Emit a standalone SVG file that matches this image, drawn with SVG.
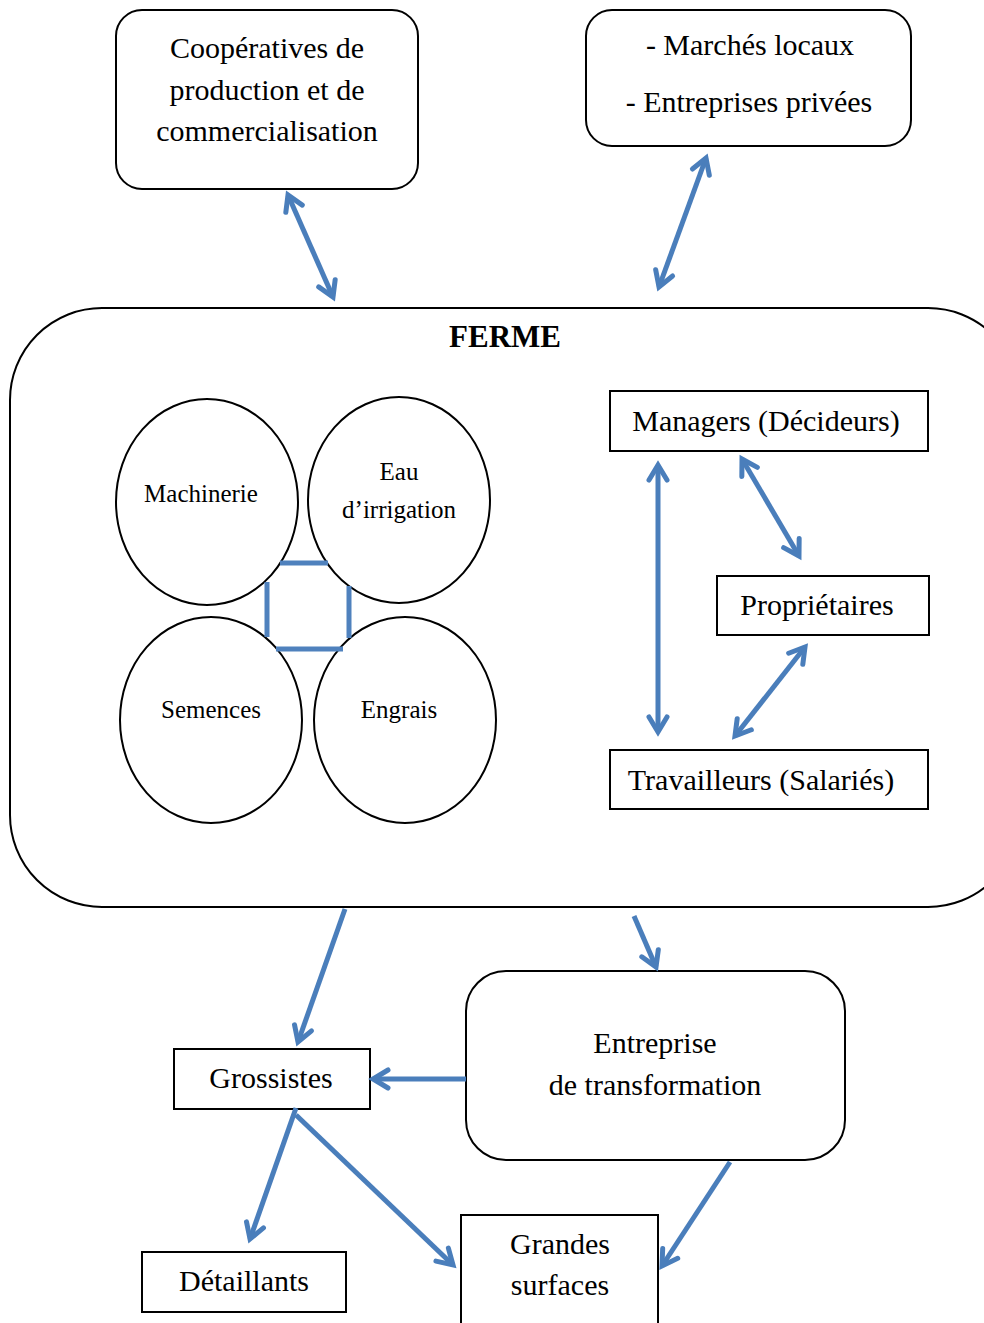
<svg xmlns="http://www.w3.org/2000/svg" width="984" height="1323" viewBox="0 0 984 1323">
<defs>
<style>
.box{fill:#fff;stroke:#000;stroke-width:2}
.t{font-family:"Liberation Serif","Times New Roman",serif;font-size:30px;fill:#000;text-anchor:middle}
.s{font-size:25px}
.c{fill:none;stroke:#4a7ebb;stroke-width:5}
.sq{stroke:#4f81bd;stroke-width:5;fill:none}
</style>
<marker id="a" markerUnits="userSpaceOnUse" markerWidth="30" markerHeight="30" viewBox="-20 -15 30 30" refX="0" refY="0" orient="auto-start-reverse">
<path d="M-15,-9 L0,0 L-15,9" fill="none" stroke="#4a7ebb" stroke-width="5" stroke-linecap="round" stroke-linejoin="miter"/>
</marker>
</defs>
<rect width="984" height="1323" fill="#fff"/>

<g id="ferme">
<rect class="box" x="10" y="308" width="1010" height="599" rx="92"/>
<text class="t" x="505" y="347" style="font-weight:bold;font-size:31px">FERME</text>
</g>
<g id="coop">
<rect class="box" x="116" y="10" width="302" height="179" rx="26"/>
<text class="t" x="267" y="58">Coopératives de</text>
<text class="t" x="267" y="100">production et de</text>
<text class="t" x="267" y="141">commercialisation</text>
</g>
<g id="marches">
<rect class="box" x="586" y="10" width="325" height="136" rx="26"/>
<text class="t" x="750" y="55">- Marchés locaux</text>
<text class="t" x="749" y="112">- Entreprises privées</text>
</g>
<g id="machinerie">
<ellipse class="box" cx="207" cy="502" rx="91" ry="103"/>
<text class="t s" x="201" y="502">Machinerie</text>
</g>
<g id="eau">
<ellipse class="box" cx="399" cy="500" rx="91" ry="103"/>
<text class="t s" x="399" y="480">Eau</text>
<text class="t s" x="399" y="518">d’irrigation</text>
</g>
<g id="semences">
<ellipse class="box" cx="211" cy="720" rx="91" ry="103"/>
<text class="t s" x="211" y="718">Semences</text>
</g>
<g id="engrais">
<ellipse class="box" cx="405" cy="720" rx="91" ry="103"/>
<text class="t s" x="399" y="718">Engrais</text>
</g>
<g id="square">
<path class="sq" d="M280,563 H328 M276,649 H343 M267,582 V637 M349,586 V638"/>
</g>
<g id="managers">
<rect class="box" x="610" y="391" width="318" height="60"/>
<text class="t" x="766" y="431">Managers (Décideurs)</text>
</g>
<g id="proprietaires">
<rect class="box" x="717" y="576" width="212" height="59"/>
<text class="t" x="817" y="615">Propriétaires</text>
</g>
<g id="travailleurs">
<rect class="box" x="610" y="750" width="318" height="59"/>
<text class="t" x="761" y="790">Travailleurs (Salariés)</text>
</g>
<g id="entreprise">
<rect class="box" x="466" y="971" width="379" height="189" rx="40"/>
<text class="t" x="655" y="1053">Entreprise</text>
<text class="t" x="655" y="1095">de transformation</text>
</g>
<g id="grossistes">
<rect class="box" x="174" y="1049" width="196" height="60"/>
<text class="t" x="271" y="1088">Grossistes</text>
</g>
<g id="detaillants">
<rect class="box" x="142" y="1252" width="204" height="60"/>
<text class="t" x="244" y="1291">Détaillants</text>
</g>
<g id="grandes">
<rect class="box" x="461" y="1215" width="197" height="120"/>
<text class="t" x="560" y="1254">Grandes</text>
<text class="t" x="560" y="1295">surfaces</text>
</g>

<g id="connectors">
<line class="c" x1="288" y1="195" x2="333" y2="297" marker-start="url(#a)" marker-end="url(#a)"/>
<line class="c" x1="706" y1="158" x2="659" y2="287" marker-start="url(#a)" marker-end="url(#a)"/>
<line class="c" x1="658" y1="465" x2="658" y2="732" marker-start="url(#a)" marker-end="url(#a)"/>
<line class="c" x1="742" y1="459" x2="799" y2="556" marker-start="url(#a)" marker-end="url(#a)"/>
<line class="c" x1="805" y1="647" x2="735" y2="736" marker-start="url(#a)" marker-end="url(#a)"/>
<line class="c" x1="345" y1="909" x2="298" y2="1042" marker-end="url(#a)"/>
<line class="c" x1="634" y1="916" x2="656" y2="967" marker-end="url(#a)"/>
<line class="c" x1="466" y1="1079" x2="373" y2="1079" marker-end="url(#a)"/>
<line class="c" x1="296" y1="1108" x2="250" y2="1239" marker-end="url(#a)"/>
<line class="c" x1="296" y1="1115" x2="453" y2="1265" marker-end="url(#a)"/>
<line class="c" x1="730" y1="1162" x2="662" y2="1266" marker-end="url(#a)"/>
</g>
</svg>
